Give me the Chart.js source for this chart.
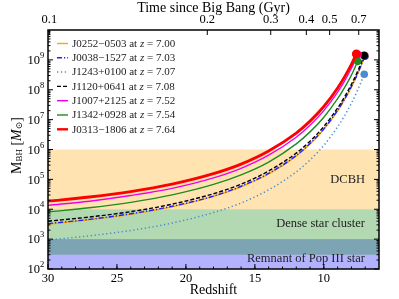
<!DOCTYPE html>
<html>
<head>
<meta charset="utf-8">
<script src="https://cdn.jsdelivr.net/npm/chart.js@4/dist/chart.umd.min.js"></script>
<style>
html, body { margin: 0; padding: 0; background: #fff; }
</style>
</head>
<body>
<canvas id="c" width="399" height="299"></canvas>
<script>
// redshift grid the growth tracks were read at (decreasing z)
const redshiftGrid = [30, 27, 24, 21, 18, 16, 14, 12, 11, 10, 9, 8.5, 8, 7.5];

// quasars, in legend order
const qsoNames = ['J0252\u22120503', 'J0038\u22121527', 'J1243+0100', 'J1120+0641', 'J1007+2125', 'J1342+0928', 'J0313\u22121806'];
const qsoRedshift = [7.00, 7.03, 7.07, 7.08, 7.52, 7.54, 7.64];
const qsoLogMass = [9.14, 9.12, 8.52, 9.15, 9.18, 8.95, 9.20];   // log10 M_BH at the quasar redshift

const trackJ0252 = [3.50, 3.65, 3.83, 4.08, 4.43, 4.75, 5.18, 5.78, 6.18, 6.68, 7.29, 7.67, 8.09, 8.58];
const trackJ0038 = [3.52, 3.66, 3.85, 4.10, 4.44, 4.77, 5.20, 5.80, 6.20, 6.69, 7.31, 7.68, 8.11, 8.59];
const trackJ1243 = [2.97, 3.11, 3.29, 3.54, 3.89, 4.21, 4.65, 5.25, 5.65, 6.14, 6.76, 7.13, 7.55, 8.04];
const trackJ1120 = [3.60, 3.74, 3.92, 4.17, 4.52, 4.84, 5.28, 5.88, 6.28, 6.77, 7.39, 7.76, 8.18, 8.67];
const trackJ1007 = [4.13, 4.27, 4.46, 4.70, 5.05, 5.37, 5.81, 6.41, 6.81, 7.30, 7.92, 8.29, 8.72];
const trackJ1342 = [3.91, 4.05, 4.23, 4.48, 4.83, 5.15, 5.58, 6.19, 6.59, 7.08, 7.70, 8.07, 8.49];
const trackJ0313 = [4.27, 4.41, 4.59, 4.84, 5.19, 5.51, 5.95, 6.55, 6.95, 7.44, 8.06, 8.43, 8.85];
const tracks = [trackJ0252, trackJ0038, trackJ1243, trackJ1120, trackJ1007, trackJ1342, trackJ0313];

// seed mass regimes (drawn in this order)
const bandNames = ['Remnant of Pop III star', 'Dense star cluster', 'DCBH'];
const bandLow = [10, 300, 1e4];
const bandHigh = [1e3, 1e4, 1e6];
const bandLabelAt = [2.2e2, 3.2e3, 1e5];

// axis ticks
const redshiftTicks = [30, 25, 20, 15, 10];
const timeLabels = ['0.1', '0.2', '0.3', '0.4', '0.5', '0.7'];
const timeTickZ = [29.9, 18.45, 13.85, 11.27, 9.58, 7.47];

// styles
const lineColors = ['#ffa500', '#2020ff', '#4a8ccf', '#000000', '#ee00ee', '#1e8c1e', '#ff0000'];
const lineDash = [[], [5, 2, 1.2, 2], [1.3, 2.6], [4, 2], [], [], []];
const lineWidths = [1.4, 1.4, 1.5, 1.4, 1.4, 1.4, 2.8];
const bandColors = ['rgba(0,0,255,0.3)', 'rgba(0,128,0,0.3)', 'rgba(255,165,0,0.3)'];
const SERIF = "'Liberation Serif', 'DejaVu Serif', serif";

const datasets = tracks.map(function (tr, i) {
    const pts = redshiftGrid.slice(0, tr.length).map(function (z, k) {
        return { x: z, y: Math.pow(10, tr[k]) };
    });
    pts.push({ x: qsoRedshift[i], y: Math.pow(10, qsoLogMass[i]) });
    return {
        label: qsoNames[i],
        data: pts,
        order: -i,   // later quasars on top, like matplotlib
        borderColor: lineColors[i],
        backgroundColor: lineColors[i],
        borderWidth: lineWidths[i],
        borderDash: lineDash[i],
        pointRadius: pts.map(function (p, k) { return k === pts.length - 1 ? (i === 6 ? 4.5 : 3.8) : 0; }),
        pointBorderWidth: 0,
        cubicInterpolationMode: 'monotone',
        fill: false
    };
});

const bandPlugin = {
    id: 'bands',
    beforeDatasetsDraw: function (chart) {
        const ctx = chart.ctx, a = chart.chartArea, y = chart.scales.y;
        ctx.save();
        ctx.beginPath();
        ctx.rect(a.left, a.top, a.right - a.left, a.bottom - a.top);
        ctx.clip();
        bandLow.forEach(function (lo, i) {
            const y1 = y.getPixelForValue(bandHigh[i]), y0 = y.getPixelForValue(lo);
            ctx.fillStyle = bandColors[i];
            ctx.fillRect(a.left, y1, a.right - a.left, y0 - y1);
        });
        ctx.fillStyle = '#222';
        ctx.font = '12.5px ' + SERIF;
        ctx.textAlign = 'right';
        ctx.textBaseline = 'middle';
        bandNames.forEach(function (n, i) {
            ctx.fillText(n, a.right - 14, y.getPixelForValue(bandLabelAt[i]));
        });
        ctx.restore();
    }
};

const framePlugin = {
    id: 'frame',
    afterDraw: function (chart) {
        const ctx = chart.ctx, a = chart.chartArea;
        const x = chart.scales.x, x2 = chart.scales.x2, y = chart.scales.y;
        ctx.save();
        ctx.strokeStyle = '#000';
        ctx.lineWidth = 1;
        function tick(x0, y0, x1, y1) {
            ctx.beginPath(); ctx.moveTo(x0, y0); ctx.lineTo(x1, y1); ctx.stroke();
        }
        for (let z = 7; z <= 29; z++) {
            const px = x.getPixelForValue(z);
            tick(px, a.bottom, px, a.bottom - 2.5);
        }
        redshiftTicks.forEach(function (z) {
            const px = x.getPixelForValue(z);
            tick(px, a.bottom, px, a.bottom - 5);
        });
        timeTickZ.forEach(function (z) {
            const px = x2.getPixelForValue(z);
            tick(px, a.top, px, a.top + 5);
        });
        for (let e = 2; e < 10; e++) {
            for (let k = 1; k < 10; k++) {
                const py = y.getPixelForValue(k * Math.pow(10, e));
                const L = k === 1 ? 5 : 2.5;
                tick(a.left, py, a.left + L, py);
                tick(a.right, py, a.right - L, py);
            }
        }
        ctx.lineWidth = 1.5;
        ctx.strokeRect(a.left, a.top, a.right - a.left, a.bottom - a.top);

        // y tick labels 10^n
        ctx.fillStyle = '#000';
        ctx.textBaseline = 'middle';
        for (let e = 2; e < 10; e++) {
            const py = y.getPixelForValue(Math.pow(10, e));
            ctx.font = '12.5px ' + SERIF;
            ctx.textAlign = 'right';
            ctx.fillText('10', a.left - 8, py + 1);
            ctx.font = '8.5px ' + SERIF;
            ctx.textAlign = 'left';
            ctx.fillText(String(e), a.left - 8, py - 4);
        }

        // y axis title: M_BH [M_sun]
        ctx.translate(17, (a.top + a.bottom) / 2 - 4);
        ctx.rotate(-Math.PI / 2);
        const parts = [
            ['M', '14px', 0], ['BH', '9px', 3], [' [', '14px', 0], ['M', 'italic 14px', 0], ['\u2299', '9px', 3], [']', '14px', 0]
        ];
        let w = 0;
        parts.forEach(function (p) { ctx.font = p[1] + ' ' + SERIF; w += ctx.measureText(p[0]).width; });
        let xx = -w / 2;
        ctx.textAlign = 'left';
        parts.forEach(function (p) {
            ctx.font = p[1] + ' ' + SERIF;
            ctx.fillText(p[0], xx, p[2]);
            xx += ctx.measureText(p[0]).width;
        });
        ctx.restore();
    }
};

const legendPlugin = {
    id: 'texLegend',
    afterDatasetsDraw: function (chart) {
        const ctx = chart.ctx, a = chart.chartArea;
        chart.data.datasets.forEach(function (ds, i) {
            const yy = a.top + 13.5 + i * 14.3;
            ctx.save();
            ctx.strokeStyle = ds.borderColor;
            ctx.lineWidth = Math.min(ds.borderWidth, 2.4);
            ctx.setLineDash(ds.borderDash);
            ctx.beginPath(); ctx.moveTo(a.left + 9, yy); ctx.lineTo(a.left + 20, yy); ctx.stroke();
            ctx.setLineDash([]);
            ctx.fillStyle = '#222';
            ctx.textBaseline = 'middle';
            ctx.textAlign = 'left';
            let xx = a.left + 24;
            const bits = [[qsoNames[i] + ' at ', ''], ['z', 'italic '], [' = ' + qsoRedshift[i].toFixed(2), '']];
            bits.forEach(function (b) {
                ctx.font = b[1] + '11px ' + SERIF;
                ctx.fillText(b[0], xx, yy + 0.5);
                xx += ctx.measureText(b[0]).width;
            });
            ctx.restore();
        });
    }
};

new Chart(document.getElementById('c').getContext('2d'), {
    type: 'line',
    data: { datasets: datasets },
    options: {
        responsive: false,
        animation: false,
        layout: { padding: { left: 0, right: 20, top: 0, bottom: 0 } },
        plugins: { legend: { display: false }, tooltip: { enabled: false } },
        scales: {
            x: {
                type: 'linear', position: 'bottom', reverse: true, min: 6, max: 30,
                grid: { display: false, drawTicks: false },
                border: { display: false },
                afterBuildTicks: function (s) { s.ticks = redshiftTicks.map(function (v) { return { value: v }; }); },
                afterFit: function (s) { s.height = 30; },
                ticks: { autoSkip: false, maxRotation: 0, padding: 2, color: '#000', font: { family: SERIF, size: 12.5 } },
                title: { display: true, text: 'Redshift', color: '#000', font: { family: SERIF, size: 14 }, padding: { top: 0, bottom: 0 } }
            },
            x2: {
                type: 'linear', position: 'top', reverse: true, min: 6, max: 30,
                grid: { display: false, drawTicks: false },
                border: { display: false },
                afterBuildTicks: function (s) { s.ticks = timeTickZ.map(function (v) { return { value: v }; }); },
                afterFit: function (s) { s.height = 30; },
                ticks: {
                    autoSkip: false, maxRotation: 0, padding: 3, color: '#000', font: { family: SERIF, size: 12.5 },
                    callback: function (v, i) { return timeLabels[i]; }
                },
                title: { display: true, text: 'Time since Big Bang (Gyr)', color: '#000', font: { family: SERIF, size: 14 }, padding: { top: 0, bottom: 0 } }
            },
            y: {
                type: 'logarithmic', position: 'left', min: 1e2, max: 1e10,
                grid: { display: false, drawTicks: false },
                border: { display: false },
                ticks: { display: false },
                afterFit: function (s) { s.width = 48; }
            }
        }
    },
    plugins: [bandPlugin, legendPlugin, framePlugin]
});
</script>
</body>
</html>
